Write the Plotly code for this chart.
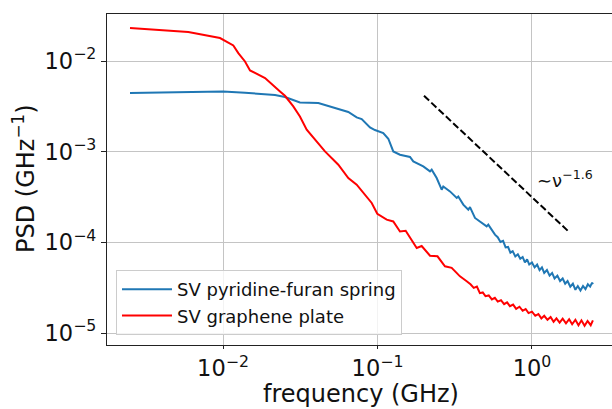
import plotly.graph_objects as go

# Power spectral density of the two SV systems
blue_f = [0.0025, 0.00594, 0.01, 0.01388, 0.01736, 0.02171, 0.02518, 0.03147, 0.0414, 0.0469,
          0.05719, 0.06471, 0.07334, 0.07903, 0.0894, 0.0963, 0.109, 0.1175, 0.1265, 0.1398,
          0.1623, 0.1705, 0.1979, 0.2187, 0.2243, 0.2416, 0.2603, 0.2666, 0.2946, 0.3256,
          0.3334, 0.3592, 0.387, 0.3969, 0.4276, 0.4607, 0.5089, 0.5213, 0.576,
          0.60, 0.625, 0.65, 0.675, 0.70, 0.725, 0.75, 0.78, 0.81, 0.84, 0.87, 0.90, 0.93,
          0.96, 1.0, 1.04, 1.08, 1.12, 1.16, 1.20, 1.25, 1.30, 1.35, 1.40, 1.46, 1.52, 1.58,
          1.64, 1.70, 1.77, 1.84, 1.91, 1.98, 2.06, 2.14, 2.22, 2.30, 2.38, 2.45, 2.48]
blue_psd = [0.00443, 0.00459, 0.00462, 0.00447, 0.00436, 0.00422, 0.00401, 0.0035, 0.00344, 0.00321,
            0.0029, 0.00274, 0.00239, 0.00229, 0.001854, 0.001734, 0.001607, 0.00139, 0.001007, 0.000927,
            0.000875, 0.000782, 0.000689, 0.000607, 0.000634, 0.000513, 0.000381, 0.000414, 0.000365, 0.000309,
            0.000321, 0.000261, 0.000229, 0.000245, 0.000186, 0.00017, 0.00015, 0.0001567, 0.0001216,
            1.14e-4, 1.01e-4, 1.04e-4, 8.8e-5, 8.9e-5, 7.7e-5, 8.0e-5, 7.0e-5, 7.4e-5, 6.6e-5, 6.9e-5, 6.0e-5, 6.5e-5,
            5.7e-5, 6.0e-5, 5.3e-5, 5.7e-5, 4.95e-5, 5.3e-5, 4.6e-5, 4.95e-5, 4.3e-5, 4.6e-5, 4.0e-5, 4.3e-5, 3.75e-5, 4.0e-5,
            3.5e-5, 3.75e-5, 3.25e-5, 3.5e-5, 3.0e-5, 3.3e-5, 2.95e-5, 3.3e-5, 3.05e-5, 3.45e-5, 3.25e-5, 3.6e-5, 3.45e-5]

red_f = [0.0025, 0.00596, 0.00956, 0.01166, 0.01256, 0.01388, 0.01496, 0.01871, 0.02339, 0.02518,
         0.02851, 0.03147, 0.03481, 0.04041, 0.04571, 0.05576, 0.06471, 0.07334, 0.08298, 0.09173,
         0.0997, 0.1147, 0.1265, 0.1398, 0.1522, 0.1623, 0.1794, 0.1932, 0.2187, 0.2445,
         0.2734, 0.3021, 0.342, 0.3779,
         0.40, 0.42, 0.44, 0.46, 0.48, 0.50, 0.525, 0.55, 0.575, 0.60, 0.63, 0.66, 0.69, 0.72,
         0.755, 0.79, 0.83, 0.87, 0.91, 0.95, 1.0, 1.05, 1.10, 1.15, 1.2, 1.26, 1.32, 1.38,
         1.44, 1.51, 1.58, 1.66, 1.74, 1.82, 1.91, 2.0, 2.09, 2.19, 2.29, 2.40, 2.48]
red_psd = [0.0231, 0.0209, 0.01794, 0.01486, 0.01225, 0.0099, 0.00788, 0.0065, 0.00462, 0.00414,
           0.00316, 0.00245, 0.00175, 0.0013, 0.001007, 0.000719, 0.000513, 0.000433, 0.000336, 0.000272,
           0.000207, 0.000178, 0.00017, 0.000132, 0.0001345, 0.0001118, 8.67e-5, 9.12e-5, 7.13e-5, 7.02e-5,
           5.44e-5, 5.23e-5, 4.22e-5, 3.72e-5,
           3.45e-5, 3.15e-5, 3.25e-5, 2.75e-5, 2.80e-5, 2.55e-5, 2.60e-5, 2.35e-5, 2.45e-5, 2.22e-5, 2.30e-5, 2.08e-5, 2.18e-5, 1.98e-5,
           2.06e-5, 1.85e-5, 1.95e-5, 1.76e-5, 1.84e-5, 1.66e-5, 1.72e-5, 1.55e-5, 1.62e-5, 1.45e-5, 1.55e-5, 1.40e-5, 1.50e-5, 1.33e-5,
           1.45e-5, 1.30e-5, 1.44e-5, 1.28e-5, 1.42e-5, 1.25e-5, 1.40e-5, 1.22e-5, 1.38e-5, 1.20e-5, 1.36e-5, 1.22e-5, 1.38e-5]

# Power-law guide ~ nu^-1.6
guide_f = [0.2, 1.72]
guide_ref_psd = 0.00414
guide_exponent = -1.6
guide_psd = [guide_ref_psd * (f / guide_f[0]) ** guide_exponent for f in guide_f]

x_tickvals = [0.01, 0.1, 1]
x_ticktext = ["10<sup>−2</sup>", "10<sup>−1</sup>", "10<sup>0</sup>"]
y_tickvals = [1e-5, 1e-4, 1e-3, 1e-2]
y_ticktext = ["10<sup>−5</sup>", "10<sup>−4</sup>", "10<sup>−3</sup>", "10<sup>−2</sup>"]

FONT = "DejaVu Sans"

fig = go.Figure()
fig.add_trace(go.Scatter(x=blue_f, y=blue_psd, mode="lines", name="SV pyridine-furan spring",
                         line=dict(color="#1f77b4", width=2)))
fig.add_trace(go.Scatter(x=red_f, y=red_psd, mode="lines", name="SV graphene plate",
                         line=dict(color="#ff0000", width=2)))
fig.add_trace(go.Scatter(x=guide_f, y=guide_psd, mode="lines", showlegend=False,
                         line=dict(color="black", width=2, dash="7px,3px")))

axis_common = dict(type="log", showgrid=True, gridcolor="#c4c4c4", gridwidth=1.2,
                   showline=True, linecolor="#222222", linewidth=1.2,
                   ticks="outside", tickwidth=1.2, tickcolor="#222222",
                   tickfont=dict(family=FONT, size=22.5, color="#111111"), zeroline=False)

fig.update_xaxes(**axis_common, range=[-2.751, 0.518], mirror=True, ticklen=3,
                 tickvals=x_tickvals, ticktext=x_ticktext)
fig.update_yaxes(**axis_common, range=[-5.132, -1.481], mirror=False, ticklen=5,
                 tickvals=y_tickvals, ticktext=y_ticktext)

fig.add_annotation(text="∼ν<sup>−1.6</sup>", x=0.019, y=-3.30, xref="x", yref="y",
                   xanchor="left", yanchor="middle", showarrow=False,
                   font=dict(family=FONT, size=18, color="#111111"))
fig.add_annotation(text="frequency (GHz)", x=0.503, y=-0.148, xref="paper", yref="paper",
                   xanchor="center", yanchor="middle", showarrow=False, borderpad=0,
                   font=dict(family=FONT, size=24, color="#111111"))
fig.add_annotation(text="PSD (GHz<sup>−1</sup>)", x=-0.1644, y=0.5045, xref="paper", yref="paper",
                   xanchor="center", yanchor="middle", showarrow=False, textangle=-90,
                   font=dict(family=FONT, size=24, color="#111111"))

fig.update_layout(
    width=612, height=409,
    margin=dict(l=107, r=0, t=14, b=64),
    paper_bgcolor="white", plot_bgcolor="white",
    font=dict(family=FONT, color="#111111"),
    legend=dict(x=0.0178, y=0.0302, xanchor="left", yanchor="bottom",
                bgcolor="rgba(255,255,255,0.8)", bordercolor="#cccccc", borderwidth=1,
                itemwidth=50,
                font=dict(family=FONT, size=18, color="#111111")),
)

fig.write_html("out.html")
